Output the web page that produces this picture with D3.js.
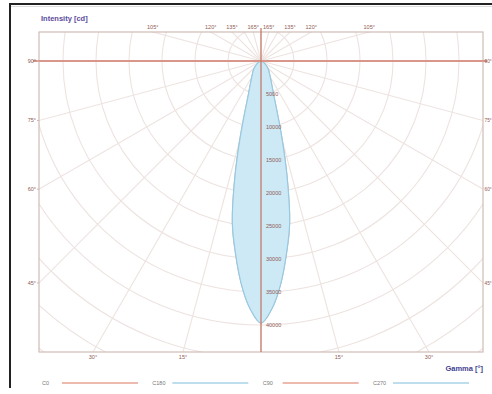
<!DOCTYPE html>
<html>
<head>
<meta charset="utf-8">
<script src="https://cdn.jsdelivr.net/npm/d3@7/dist/d3.min.js"></script>
<style>
  html, body { margin: 0; padding: 0; background: #fff; }
  svg { display: block; font-family: "Liberation Sans", Arial, sans-serif; }
</style>
</head>
<body>
<svg id="chart" width="492" height="394"></svg>
<script>
// ---- data ----
const gammaAngles = [0, 2.5, 5, 7.5, 10, 12.5, 15, 17.5, 20, 25, 30, 35, 40, 45, 50, 60, 70, 80, 90];
const intensityC0   = [39700, 37600, 34000, 29500, 25000, 18500, 12500, 8200, 5800, 3800, 2800, 2200, 1800, 1400, 1000, 500, 200, 50, 0];
const intensityC180 = [39700, 37600, 34000, 29500, 25000, 18500, 12500, 8200, 5800, 3800, 2800, 2200, 1800, 1400, 1000, 500, 200, 50, 0];
const intensityC90  = [39700, 37600, 34000, 29500, 25000, 18500, 12500, 8200, 5800, 3800, 2800, 2200, 1800, 1400, 1000, 500, 200, 50, 0];
const intensityC270 = [39700, 37600, 34000, 29500, 25000, 18500, 12500, 8200, 5800, 3800, 2800, 2200, 1800, 1400, 1000, 500, 200, 50, 0];
const legendLabels = ["C0", "C180", "C90", "C270"];
const legendColors = ["#e9a393", "#a9d3e8", "#e9a393", "#a9d3e8"];
const ringValues = d3.range(5000, 65001, 5000);
const ringLabels = [5000, 10000, 15000, 20000, 25000, 30000, 35000, 40000];
const spokeAngles = d3.range(0, 360, 15);
const sideTickAngles = [90, 75, 60, 45];
const bottomTickAngles = [30, 15];
const topTickAngles = [105, 120, 135, 165];

// ---- layout ----
const svg = d3.select("#chart");
const plot = {left: 39, right: 483, top: 32, bottom: 352};
const cx = (plot.left + plot.right) / 2;
const cy = plot.top + 29;
const r = d3.scaleLinear().domain([0, 5000]).range([0, 33]);
const deg = Math.PI / 180;
const gridCol = "#ede3e0";
const tickCol = "#8f5a52";

// outer frame
svg.append("line").attr("x1", 10).attr("x2", 10).attr("y1", 3).attr("y2", 388)
  .attr("stroke", "#222").attr("stroke-width", 2);
svg.append("line").attr("x1", 9).attr("x2", 492).attr("y1", 4).attr("y2", 4)
  .attr("stroke", "#222").attr("stroke-width", 2);
svg.append("line").attr("x1", 11).attr("x2", 492).attr("y1", 6.5).attr("y2", 6.5)
  .attr("stroke", "#ddd").attr("stroke-width", 1);

svg.append("clipPath").attr("id", "clip").append("rect")
  .attr("x", plot.left).attr("y", plot.top)
  .attr("width", plot.right - plot.left).attr("height", plot.bottom - plot.top);

const g = svg.append("g").attr("clip-path", "url(#clip)");

// rings
g.selectAll("circle.ring").data(ringValues).join("circle")
  .attr("class", "ring").attr("cx", cx).attr("cy", cy).attr("r", d => r(d))
  .attr("fill", "none").attr("stroke", gridCol).attr("stroke-width", 1.1);

// spokes
const rMax = r(ringValues[ringValues.length - 1]);
g.selectAll("line.spoke").data(spokeAngles).join("line")
  .attr("class", "spoke")
  .attr("x1", cx).attr("y1", cy)
  .attr("x2", a => cx + rMax * Math.sin(a * deg))
  .attr("y2", a => cy + rMax * Math.cos(a * deg))
  .attr("stroke", gridCol).attr("stroke-width", 1.1);

// plot border
svg.append("rect").attr("x", plot.left).attr("y", plot.top)
  .attr("width", plot.right - plot.left).attr("height", plot.bottom - plot.top)
  .attr("fill", "none").attr("stroke", "#d0bcb7").attr("stroke-width", 1.2);

// curves
function planePoints(vals, side) {
  return gammaAngles.map((a, i) => [cx + side * r(vals[i]) * Math.sin(a * deg), cy + r(vals[i]) * Math.cos(a * deg)]);
}
const line = d3.line().curve(d3.curveCatmullRom.alpha(0.5));
function lobe(right, left) {
  const pr = planePoints(right, 1);
  const pl = planePoints(left, -1).reverse();
  return line(pl.concat(pr.slice(1))) + "Z";
}
// C0-C180 plane
g.append("path").attr("d", lobe(intensityC0, intensityC180))
  .attr("fill", "none").attr("stroke", legendColors[0]).attr("stroke-width", 1);
// C90-C270 plane
g.append("path").attr("d", lobe(intensityC90, intensityC270))
  .attr("fill", "#cde9f6").attr("fill-opacity", 1)
  .attr("stroke", "#93cbe4").attr("stroke-width", 1.2);

// axis lines
svg.append("line").attr("x1", 33).attr("x2", 487).attr("y1", cy).attr("y2", cy)
  .attr("stroke", "#d9968a").attr("stroke-width", 2);
svg.append("line").attr("x1", cx).attr("x2", cx).attr("y1", 28).attr("y2", plot.bottom)
  .attr("stroke", "#c57a6c").attr("stroke-width", 1.3);

// ring labels
svg.selectAll("text.rl").data(ringLabels).join("text")
  .attr("class", "rl")
  .attr("x", cx + 5).attr("y", d => cy + r(d) + 2)
  .attr("font-size", 5.5).attr("fill", tickCol).text(d => d);

// side tick labels (left and right)
function sideY(a) { return cy + (cx - plot.left) / Math.tan(a * deg); }
sideTickAngles.forEach(a => {
  const y = a === 90 ? cy : sideY(a);
  svg.append("text").attr("x", plot.left - 3).attr("y", y + 2)
    .attr("text-anchor", "end").attr("font-size", 5.5).attr("fill", tickCol).text(a + "°");
  svg.append("text").attr("x", plot.right + 1.5).attr("y", y + 2)
    .attr("text-anchor", "start").attr("font-size", 4.8).attr("fill", tickCol).text(a + "°");
  svg.append("line").attr("x1", plot.left - 2).attr("x2", plot.left).attr("y1", y).attr("y2", y).attr("stroke", "#cdb8b3");
});
// bottom tick labels
bottomTickAngles.forEach(a => {
  const dx = (plot.bottom - cy) * Math.tan(a * deg);
  [-1, 1].forEach(s => {
    svg.append("text").attr("x", cx + s * dx).attr("y", plot.bottom + 7)
      .attr("text-anchor", "middle").attr("font-size", 5.5).attr("fill", tickCol).text(a + "°");
  });
});
// top tick labels
topTickAngles.forEach(a => {
  const dx = (cy - plot.top) * Math.tan((180 - a) * deg);
  [-1, 1].forEach(s => {
    svg.append("text").attr("x", cx + s * dx).attr("y", plot.top - 3)
      .attr("text-anchor", "middle").attr("font-size", 5.5).attr("fill", tickCol).text(a + "°");
  });
});

// titles
svg.append("text").attr("x", 41).attr("y", 21).attr("font-size", 7.5).attr("font-weight", "bold")
  .attr("fill", "#5b4c9c").text("Intensity [cd]");
svg.append("text").attr("x", 483).attr("y", 371).attr("text-anchor", "end").attr("font-size", 7.5)
  .attr("font-weight", "bold").attr("fill", "#3f3f8f").text("Gamma [°]");

// legend
const legX = d3.scalePoint().domain(legendLabels).range([42, 373]);
const leg = svg.selectAll("g.leg").data(legendLabels).join("g").attr("class", "leg")
  .attr("transform", d => `translate(${legX(d)},383)`);
leg.append("text").attr("x", 0).attr("y", 2).attr("font-size", 5.5).attr("fill", "#7a7a7a").text(d => d);
leg.append("line").attr("x1", 20).attr("x2", 96).attr("y1", 0).attr("y2", 0)
  .attr("stroke", (d, i) => legendColors[i]).attr("stroke-width", 1.5);
</script>
</body>
</html>
